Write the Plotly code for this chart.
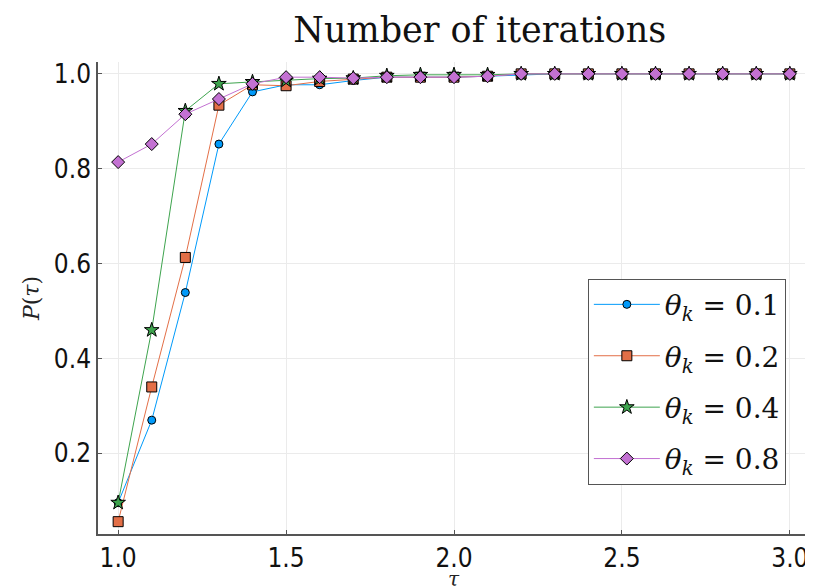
import plotly.graph_objects as go

tau = [1.0, 1.1, 1.2, 1.3, 1.4, 1.5, 1.6, 1.7, 1.8, 1.9, 2.0,
       2.1, 2.2, 2.3, 2.4, 2.5, 2.6, 2.7, 2.8, 2.9, 3.0]

p_01 = [0.096, 0.270, 0.539, 0.852, 0.962, 0.977, 0.977, 0.986, 0.993, 0.993, 0.993,
        0.995, 0.997, 1.0, 1.0, 1.0, 1.0, 1.0, 1.0, 1.0, 1.0]
p_02 = [0.056, 0.340, 0.613, 0.934, 0.977, 0.975, 0.984, 0.989, 0.993, 0.993, 0.993,
        0.995, 1.0, 1.0, 1.0, 1.0, 1.0, 1.0, 1.0, 1.0, 1.0]
p_04 = [0.096, 0.460, 0.922, 0.979, 0.983, 0.986, 0.990, 0.991, 0.996, 0.998, 0.998,
        0.998, 1.0, 1.0, 1.0, 1.0, 1.0, 1.0, 1.0, 1.0, 1.0]
p_08 = [0.814, 0.852, 0.915, 0.947, 0.979, 0.993, 0.993, 0.991, 0.993, 0.993, 0.993,
        0.995, 1.0, 1.0, 1.0, 1.0, 1.0, 1.0, 1.0, 1.0, 1.0]

labels = ["0.1", "0.2", "0.4", "0.8"]
series = [p_01, p_02, p_04, p_08]
colors = ["#009AFA", "#E36F47", "#3EA44E", "#C371D2"]
symbols = ["circle", "square", "star", "diamond"]
sizes = [8, 10, 11, 10]

fig = go.Figure()
for i, (lab, ys, c, s, sz) in enumerate(zip(labels, series, colors, symbols, sizes)):
    fig.add_trace(go.Scatter(
        x=tau, y=ys, mode="lines+markers",
        name="<i>θ<sub>k</sub></i> = " + lab,
        legendgroup="g%d" % i,
        line=dict(color=c, width=1),
        marker=dict(symbol=s, size=sz, color=c, line=dict(color="black", width=1)),
    ))

tick_font = dict(family="DejaVu Sans Condensed, DejaVu Sans", size=26, color="#111111")
axis_common = dict(
    showline=True, linecolor="#555555", linewidth=1.5,
    showgrid=True, gridcolor="#ebebeb", gridwidth=1,
    zeroline=False, ticks="inside", ticklen=4, tickcolor="#555555",
    tickfont=tick_font, mirror=False, automargin=False,
)

# page body has an 8px margin, so the figure is sized to the remaining window
fig.update_layout(
    width=805, height=579,
    margin=dict(l=90, r=3, t=54, b=53),
    paper_bgcolor="white", plot_bgcolor="white",
    title=dict(text="Number of iterations", x=0.586, xanchor="center", y=0.962, yanchor="middle",
               font=dict(family="DejaVu Serif", size=35, color="#111111")),
    xaxis=dict(range=[0.94, 3.06], tickvals=[1.0, 1.5, 2.0, 2.5, 3.0],
               ticktext=["1.0", "1.5", "2.0", "2.5", "3.0"],
               **axis_common),
    yaxis=dict(range=[0.03, 1.025], tickvals=[0.2, 0.4, 0.6, 0.8, 1.0],
               ticktext=["0.2", "0.4", "0.6", "0.8", "1.0"],
               title=dict(text="<i>P</i>(<i>τ</i>)", standoff=8,
                          font=dict(family="DejaVu Serif", size=22, color="#222222")),
               **axis_common),
    legend=dict(x=0.688, y=0.541, xanchor="left", yanchor="top",
                bgcolor="white", bordercolor="#555555", borderwidth=1,
                font=dict(family="DejaVu Serif", size=28, color="#111111"),
                itemsizing="trace", itemwidth=66, tracegroupgap=12),
    showlegend=True,
    annotations=[dict(text="<i>τ</i>", xref="paper", yref="paper", x=0.5, y=-0.095,
                      xanchor="center", yanchor="middle", showarrow=False,
                      font=dict(family="DejaVu Serif", size=20, color="#222222"))],
)

fig.write_html("out.html")
